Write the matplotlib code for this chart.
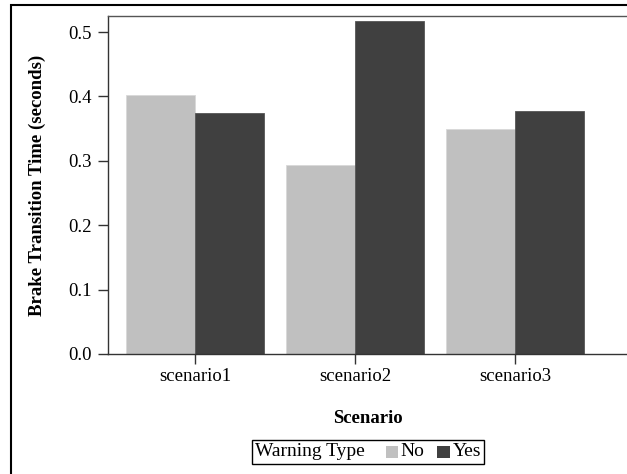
import matplotlib
matplotlib.use("Agg")
import matplotlib.pyplot as plt
from matplotlib.patches import Rectangle
from matplotlib.offsetbox import TextArea, DrawingArea, HPacker, AnchoredOffsetbox
import numpy as np

scenarios = ["scenario1", "scenario2", "scenario3"]
no_vals = [0.402, 0.294, 0.349]
yes_vals = [0.375, 0.518, 0.377]
yticks = [0.0, 0.1, 0.2, 0.3, 0.4, 0.5]

c_no = "#c0c0c0"
c_yes = "#404040"

plt.rcParams["font.family"] = ["Liberation Serif", "DejaVu Serif"]

fig = plt.figure(figsize=(6.27, 4.74), dpi=100)
ax = fig.add_axes([108 / 627, 1 - 354 / 474, 1 - 108 / 627, (354 - 16) / 474])

x = np.arange(len(scenarios))
w = 0.43
ax.bar(x - w / 2, no_vals, w, color=c_no, edgecolor="#d8d8d8", linewidth=0.6)
ax.bar(x + w / 2, yes_vals, w, color=c_yes, edgecolor="#555555", linewidth=0.6)

ax.set_xlim(-0.544, 2.7)
ax.set_ylim(0, 0.525)
ax.set_xticks(x)
ax.set_xticklabels(scenarios, fontsize=13.5)
ax.set_yticks(yticks)
ax.set_yticklabels([f"{v:.1f}" for v in yticks], fontsize=13.5)
ax.tick_params(axis="y", length=7, width=1, pad=5, color="#333333")
ax.tick_params(axis="x", length=7, width=1, pad=3, color="#333333")

ax.spines["right"].set_visible(False)
ax.spines["top"].set_color("#555555")
ax.spines["left"].set_color("#333333")
ax.spines["bottom"].set_color("#333333")
for s in ["top", "left", "bottom"]:
    ax.spines[s].set_linewidth(1)

ax.set_xlabel("Scenario", fontsize=13.5, fontweight="bold", labelpad=18)
ax.set_ylabel("Brake Transition Time (seconds)", fontsize=13.5, fontweight="bold", labelpad=16)

# legend with inline title
def swatch(color):
    da = DrawingArea(9, 9, 0, 0)
    da.add_artist(Rectangle((0, 0), 9, 9, facecolor=color, edgecolor="none"))
    return da

def entry(color, label):
    return HPacker(children=[swatch(color), TextArea(label, textprops=dict(fontsize=14))],
                   align="center", pad=0, sep=2)

box = HPacker(children=[TextArea("Warning Type", textprops=dict(fontsize=14)),
                        HPacker(children=[entry(c_no, "No"), entry(c_yes, "Yes")],
                                align="center", pad=0, sep=9)],
              align="center", pad=0, sep=15)
anc = AnchoredOffsetbox(loc="center", child=box, pad=0.22, frameon=True,
                        bbox_to_anchor=(368 / 627, 1 - 452 / 474),
                        bbox_transform=fig.transFigure, borderpad=0)
anc.patch.set_edgecolor("black")
anc.patch.set_linewidth(1)
anc.patch.set_boxstyle("square", pad=0)
fig.add_artist(anc)

# outer frame (cut off at right and bottom)
fig.patches.append(Rectangle((11 / 627, -0.1), 1.2, 1.1 - 5 / 474,
                             transform=fig.transFigure, fill=False,
                             edgecolor="black", linewidth=1.5))

fig.savefig("out.png", dpi=100)
